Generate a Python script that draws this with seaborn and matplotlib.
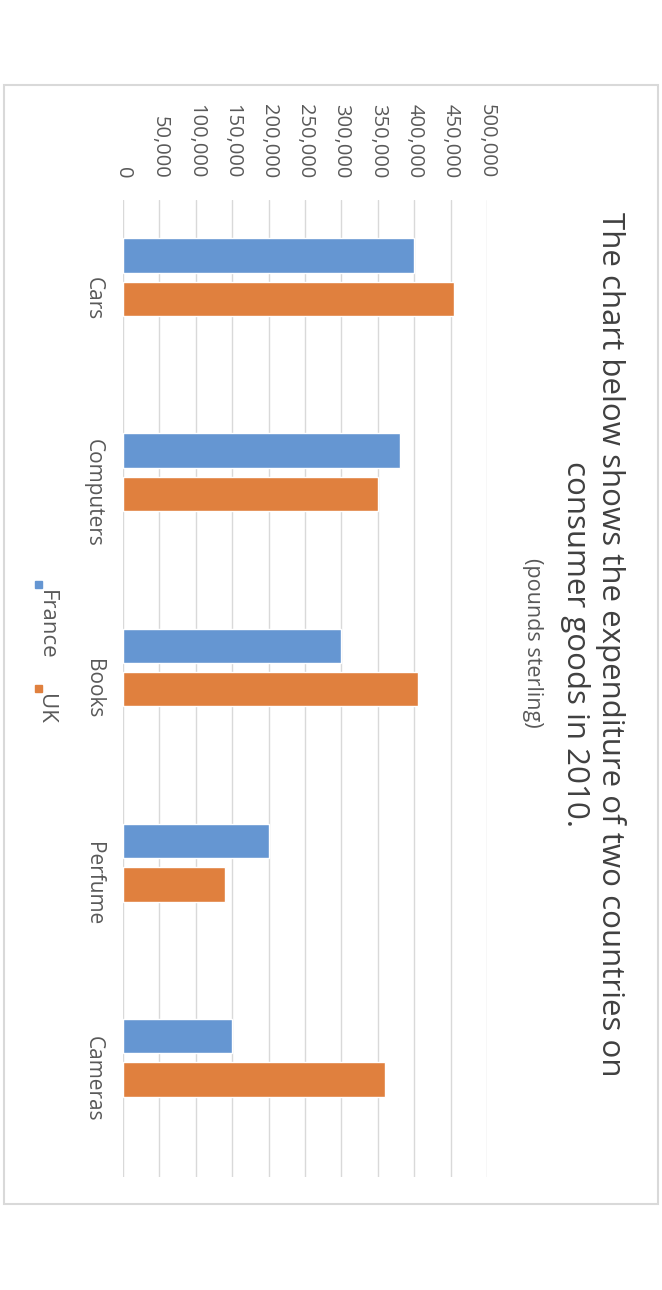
import matplotlib
matplotlib.use("Agg")
import matplotlib.pyplot as plt
from matplotlib.patches import Rectangle
from matplotlib.ticker import FuncFormatter
import seaborn as sns
import pandas as pd

categories = ["Cars", "Computers", "Books", "Perfume", "Cameras"]
france = [400000, 380000, 300000, 200000, 150000]
uk = [455000, 350000, 405000, 140000, 360000]
countries = ["France", "UK"]
colors = ["#6596d2", "#e0803e"]
value_ticks = list(range(0, 500001, 50000))

df = pd.DataFrame({
    "Category": categories * 2,
    "Country": ["France"] * len(categories) + ["UK"] * len(categories),
    "Spend": france + uk,
})

sns.set_theme(style="white")
plt.rcParams["font.family"] = ["Open Sans", "DejaVu Sans"]

W, H = 662, 1290
fig = plt.figure(figsize=(W / 100, H / 100), dpi=100)
ax = fig.add_axes([123 / W, 1 - 1177 / H, 364 / W, 977 / H])

sns.barplot(data=df, y="Category", x="Spend", hue="Country", hue_order=countries,
            palette=colors, orient="h", width=0.445, gap=0.21, saturation=1,
            legend=False, ax=ax)

# whole chart is turned 90 degrees clockwise
ax.set_xlim(0, 500000)
ax.set_ylim(4.61, -0.395)
ax.xaxis.tick_top()
ax.set_xticks(value_ticks)
ax.xaxis.set_major_formatter(FuncFormatter(lambda v, p: f"{int(v):,}"))
ax.set_yticks([i + 0.108 for i in range(len(categories))], categories)
ax.tick_params(axis="x", labelrotation=-90, length=0, pad=15.5, labelsize=14.5, colors="#595959")
ax.tick_params(axis="y", labelrotation=-90, length=0, pad=14, labelsize=15, colors="#595959")
for t in ax.get_yticklabels():
    t.set_va("center")
ax.grid(axis="x", color="#d9d9d9", lw=1)
ax.grid(axis="y", visible=False)
ax.set_axisbelow(True)
for s in ax.spines.values():
    s.set_visible(False)
ax.set_xlabel("")
ax.set_ylabel("")

# title + subtitle
fig.text(593 / W, 1 - 644 / H,
         "The chart below shows the expenditure of two countries on\nconsumer goods in 2010.",
         rotation=-90, ha="center", va="center", multialignment="center",
         fontsize=22.5, color="#404040", linespacing=1.25)
fig.text(532 / W, 1 - 643 / H, "(pounds sterling)", rotation=-90,
         ha="center", va="center", fontsize=15.5, color="#595959")

# legend
leg_y = [582, 686]
for name, y in zip(countries, leg_y):
    col = colors[countries.index(name)]
    fig.add_artist(Rectangle((35 / W, 1 - (y + 6) / H), 7 / W, 7 / H,
                             transform=fig.transFigure, color=col))
    fig.text(46 / W, 1 - (y + 8) / H, name, rotation=-90, ha="center", va="top",
             fontsize=16, color="#595959")

# chart border
fig.add_artist(Rectangle((4 / W, 1 - 1204 / H), 654 / W, 1119 / H,
                         transform=fig.transFigure, fill=False,
                         edgecolor="#d9d9d9", lw=1.5))

fig.savefig("out.png", dpi=100)
